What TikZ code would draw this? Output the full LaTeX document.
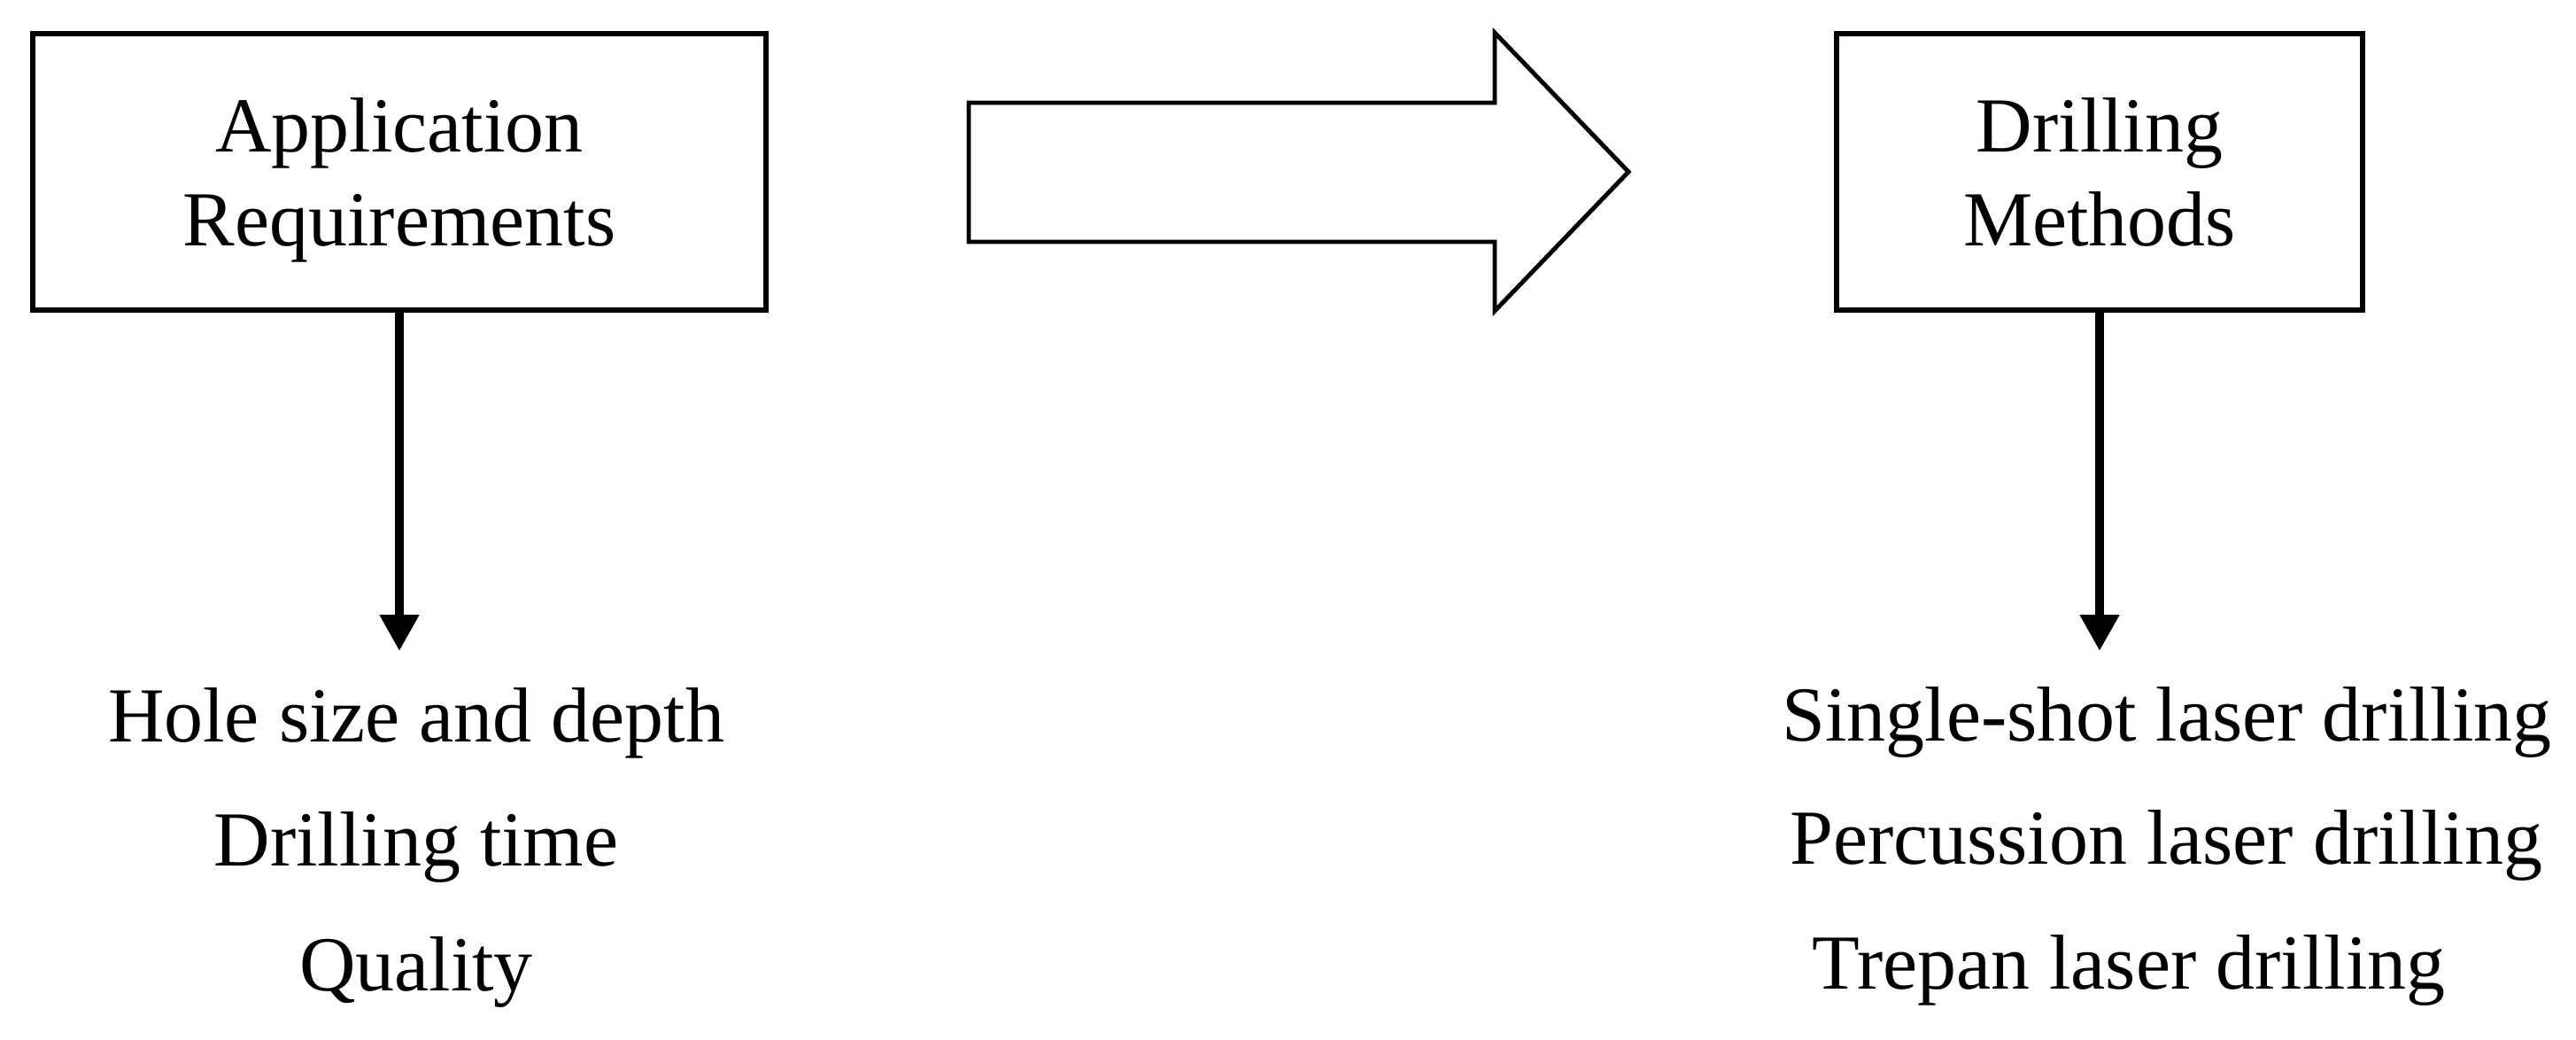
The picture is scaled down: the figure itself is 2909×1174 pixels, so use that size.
\documentclass[tikz,border=0pt]{standalone}
\usepackage{fontspec}
\setmainfont{Liberation Serif}
\usetikzlibrary{arrows.meta}

\begin{document}
\begin{tikzpicture}[x=0.01cm, y=-0.01cm,
        txt/.style={font=\fontsize{25}{29.9}\selectfont},
        box/.style={txt, draw, line width=1.7pt, align=center, text depth=0pt, minimum height=3.12cm},
        down/.style={-{Triangle[length=11.7pt, width=12pt]}, line width=3pt}]
        \useasboundingbox (0,0) rectangle (2909,1174);

        % --- 箱 ---
        \node[box, minimum width=8.27cm] (req) at (451,194) {Application\\Requirements};
        \node[box, minimum width=5.93cm] (meth) at (2371,194) {Drilling\\Methods};

        % --- 大きい矢印 ---
        \draw[line width=1.4pt] (1094,116) -- (1688,116) -- (1688,37) -- (1839,194)
            -- (1688,351) -- (1688,273) -- (1094,273) -- cycle;

        % --- 下向きの矢印 ---
        \coordinate (reqend) at (451,735);
        \coordinate (methend) at (2371,735);
        \draw[down] (req.south) -- (reqend);
        \draw[down] (meth.south) -- (methend);

        % --- 項目 ---
        \node[txt, anchor=base] (hole) at (470,838) {Hole size and depth};
        \node[txt, anchor=base] (time) at (470,978) {Drilling time};
        \node[txt, anchor=base] (qual) at (470,1119) {Quality};
        \node[txt, anchor=base] (single) at (2447,837) {Single-shot laser drilling};
        \node[txt, anchor=base] (perc) at (2446,976) {Percussion laser drilling};
        \node[txt, anchor=base] (trep) at (2404,1117) {Trepan laser drilling};

    \end{tikzpicture}
\end{document}
